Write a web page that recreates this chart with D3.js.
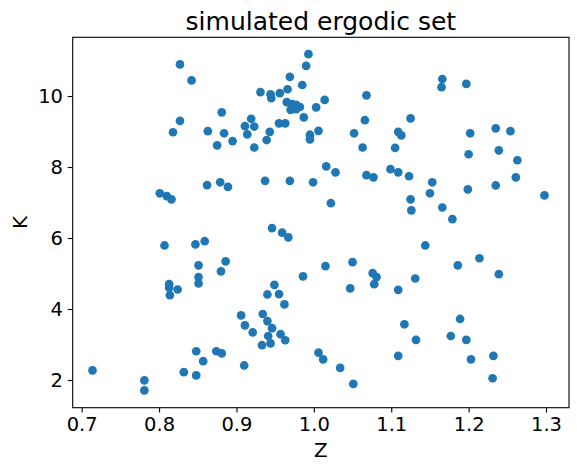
<!DOCTYPE html>
<html>
<head>
    <meta charset="utf-8">
    <title>simulated ergodic set</title>
    <script type="text/javascript" src="https://cdn.jsdelivr.net/npm/d3@7/dist/d3.min.js"></script>
    <style type="text/css">
        body {
            margin: 0;
            background: #fff;
        }

        svg text {
            font-family: "DejaVu Sans", sans-serif;
            fill: #000;
        }

        .dot {
            fill: #1f77b4;
        }
    </style>
</head>

<body>

<svg></svg>

<script type="text/javascript">
    // simulated (Z, K) pairs
    var zValues = [
        0.827, 0.842, 0.993, 0.990, 0.969, 0.985, 0.966, 0.956, 0.944, 0.945,
        0.931, 1.014, 1.003, 0.965, 0.972, 0.977, 0.982, 0.970, 0.977, 0.987,
        0.919, 0.911, 0.923, 0.914, 0.955, 0.963, 0.943, 0.939, 0.923, 1.006,
        0.995, 0.995, 0.881, 0.827, 0.818, 0.863, 0.884, 0.895, 0.875, 0.801,
        0.810, 0.816, 0.862, 0.879, 0.889, 0.937, 0.969, 0.999, 0.946, 0.959,
        0.967, 1.068, 1.066, 1.052, 1.063, 1.109, 1.113, 1.125, 1.105, 1.016,
        1.028, 1.068, 1.077, 1.099, 1.109, 1.123, 1.153, 1.150, 1.022, 1.125,
        1.126, 1.166, 1.179, 1.166, 1.165, 1.197, 1.202, 1.200, 1.235, 1.254,
        1.239, 1.263, 1.261, 1.199, 1.235, 1.298, 0.714, 0.781, 0.781, 0.807,
        0.847, 0.859, 0.851, 0.886, 0.880, 0.851, 0.851, 0.813, 0.813, 0.814,
        0.824, 0.986, 0.949, 0.940, 0.955, 0.962, 0.906, 0.934, 0.940, 0.911,
        0.946, 0.921, 0.957, 0.941, 0.963, 0.933, 0.944, 0.848, 0.857, 0.874,
        0.881, 0.832, 0.848, 0.910, 1.006, 1.015, 1.050, 1.047, 1.076, 1.081,
        1.078, 1.109, 1.131, 1.144, 1.186, 1.214, 1.239, 1.117, 1.132, 1.189,
        1.177, 1.197, 1.012, 1.034, 1.051, 1.109, 1.203, 1.232, 1.231
    ];
    var kValues = [
        10.89, 10.44, 11.18, 10.85, 10.54, 10.31, 10.19, 10.08, 10.05, 9.94,
        10.11, 9.89, 9.68, 9.83, 9.77, 9.75, 9.69, 9.61, 9.63, 9.40,
        9.36, 9.15, 9.14, 8.92, 9.23, 9.23, 8.99, 8.76, 8.55, 9.02,
        8.91, 8.78, 9.54, 9.30, 8.98, 9.01, 8.95, 8.73, 8.61, 7.26,
        7.18, 7.09, 7.49, 7.57, 7.44, 7.61, 7.61, 7.57, 6.28, 6.15,
        6.02, 10.02, 9.32, 8.95, 8.55, 8.99, 8.89, 9.37, 8.54, 8.02,
        7.85, 7.77, 7.71, 7.94, 7.85, 7.74, 7.57, 7.26, 6.98, 7.09,
        6.78, 6.86, 6.53, 10.48, 10.25, 10.34, 8.95, 8.36, 9.09, 9.01,
        8.47, 8.19, 7.71, 7.37, 7.48, 7.20, 2.27, 1.99, 1.71, 5.79,
        5.82, 5.91, 5.23, 5.34, 5.06, 4.90, 4.72, 4.70, 4.60, 4.39,
        4.55, 4.92, 4.68, 4.41, 4.42, 4.13, 3.82, 3.86, 3.66, 3.54,
        3.46, 3.34, 3.29, 3.24, 3.12, 2.98, 3.03, 2.81, 2.53, 2.81,
        2.75, 2.22, 2.13, 2.41, 2.77, 5.21, 5.32, 4.58, 5.01, 4.90,
        4.70, 4.54, 4.86, 5.79, 5.23, 5.43, 4.98, 3.57, 3.13, 3.72,
        3.24, 3.13, 2.58, 2.34, 1.89, 2.68, 2.58, 2.68, 2.05
    ];
    var zTicks = [0.7, 0.8, 0.9, 1.0, 1.1, 1.2, 1.3];
    var kTicks = [2, 4, 6, 8, 10];

    var titleText = "simulated ergodic set",
        xLabel = "Z",
        yLabel = "K";

    var w = 577, h = 472;
    var margin = {left: 72.7, right: 569, top: 37.3, bottom: 407.7};

    var svg = d3.select("svg")
                .attr("width", w)
                .attr("height", h);

    var x = d3.scaleLinear().domain([0.6884, 1.3297]).range([margin.left, margin.right]);
    var y = d3.scaleLinear().domain([1.220, 11.654]).range([margin.bottom, margin.top]);

    var points = zValues.map(function(z, i){ return {z: z, k: kValues[i]}; });

    svg.append("g")
        .selectAll("circle")
        .data(points)
        .enter().append("circle")
            .attr("class", "dot")
            .attr("cx", function(d){ return x(d.z); })
            .attr("cy", function(d){ return y(d.k); })
            .attr("r", 4.35);

    var xAxis = svg.append("g")
            .attr("transform", "translate(0," + margin.bottom + ")")
            .call(d3.axisBottom(x).tickValues(zTicks).tickFormat(d3.format(".1f"))
                .tickSize(4.9).tickSizeOuter(0).tickPadding(5));

    var yAxis = svg.append("g")
            .attr("transform", "translate(" + margin.left + ",0)")
            .call(d3.axisLeft(y).tickValues(kTicks).tickFormat(d3.format("d"))
                .tickSize(4.9).tickSizeOuter(0).tickPadding(4.8));

    [xAxis, yAxis].forEach(function(a){
        a.attr("font-size", null).attr("font-family", null);
        a.select(".domain").remove();
        a.selectAll("line").attr("stroke", "#000").attr("stroke-width", 1.1);
        a.selectAll("text").style("font-size", "19.5px").attr("fill", "#000");
    });

    // frame
    svg.append("rect")
        .attr("x", margin.left)
        .attr("y", margin.top)
        .attr("width", margin.right - margin.left)
        .attr("height", margin.bottom - margin.top)
        .attr("fill", "none")
        .attr("stroke", "#000")
        .attr("stroke-width", 1.1);

    svg.append("text")
        .attr("x", (margin.left + margin.right) / 2)
        .attr("y", 30)
        .attr("text-anchor", "middle")
        .style("font-size", "25px")
        .text(titleText);

    svg.append("text")
        .attr("x", (margin.left + margin.right) / 2)
        .attr("y", 457)
        .attr("text-anchor", "middle")
        .style("font-size", "20px")
        .text(xLabel);

    svg.append("text")
        .attr("transform", "translate(27," + ((margin.top + margin.bottom) / 2) + ") rotate(-90)")
        .attr("text-anchor", "middle")
        .style("font-size", "20px")
        .text(yLabel);
</script>

</body>

</html>
